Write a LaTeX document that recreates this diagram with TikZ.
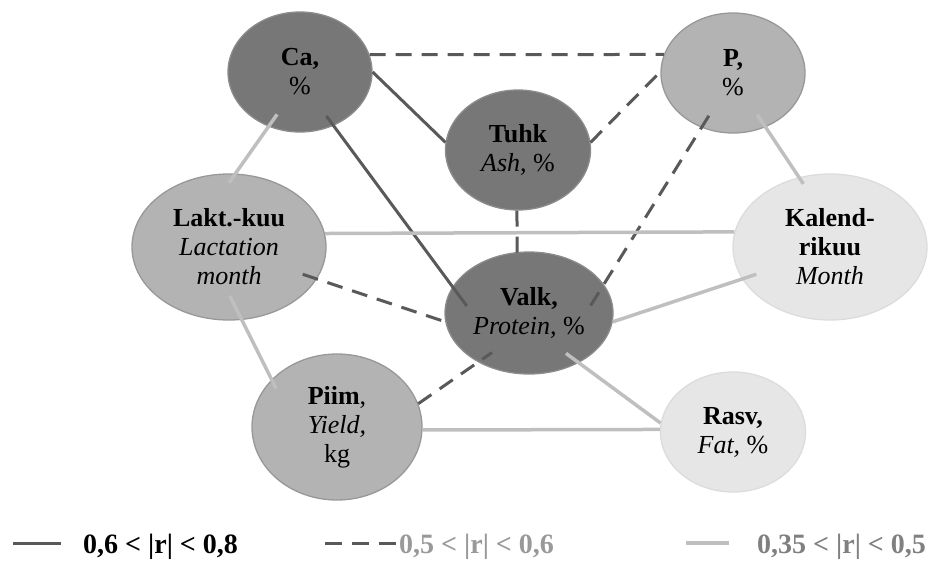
\documentclass[tikz,border=0pt]{standalone}
\usepackage{fontspec}
\setmainfont{Liberation Serif}
\usetikzlibrary{shapes.geometric}

\definecolor{darkfill}{HTML}{777777}
\definecolor{darkedge}{HTML}{8C8C8C}
\definecolor{midfill}{HTML}{B3B3B3}
\definecolor{midedge}{HTML}{989898}
\definecolor{lightfill}{HTML}{E6E6E6}
\definecolor{lightedge}{HTML}{DCDCDC}
\definecolor{strongline}{HTML}{595959}
\definecolor{weakline}{HTML}{BFBFBF}

\begin{document}
\begin{tikzpicture}[x=1pt, y=-1pt,
    font=\fontsize{26}{29}\selectfont,
    var/.style={ellipse, line width=1.3pt, inner sep=0pt, align=center},
    darkvar/.style={var, fill=darkfill, draw=darkedge},
    midvar/.style={var, fill=midfill, draw=midedge},
    lightvar/.style={var, fill=lightfill, draw=lightedge},
    strong/.style={draw=strongline, line width=3pt},
    medium/.style={draw=strongline, line width=3pt, dash pattern=on 16pt off 10pt},
    weak/.style={draw=weakline, line width=3.5pt},
    legendtext/.style={anchor=base west, inner sep=0pt, font=\fontsize{28}{30}\selectfont\bfseries}]
    \useasboundingbox (0,0) rectangle (933,560);

    \node[darkvar, minimum width=144, minimum height=120] at (300, 72) (ca) {\textbf{Ca,}\\\%};
    \node[midvar, minimum width=144, minimum height=120] at (733, 73) (p) {\textbf{P,}\\\%};
    \node[darkvar, minimum width=145, minimum height=120] at (518, 150) (tuhk) {\textbf{Tuhk}\\\textit{Ash,} \%};
    \node[midvar, minimum width=194, minimum height=146] at (229, 247) (lakt) {\textbf{Lakt.-kuu}\\\textit{Lactation}\\\textit{month}};
    \node[lightvar, minimum width=194, minimum height=146] at (830, 247) (kal) {\textbf{Kalend-}\\\textbf{rikuu}\\\textit{Month}};
    \node[darkvar, minimum width=168, minimum height=122] at (529, 313) (valk) {\textbf{Valk,}\\\textit{Protein,} \%};
    \node[midvar, minimum width=170, minimum height=146] at (337, 427) (piim) {\textbf{Piim},\\\textit{Yield,}\\kg};
    \node[lightvar, minimum width=145, minimum height=120] at (733, 432) (rasv) {\textbf{Rasv,}\\\textit{Fat,} \%};

    % 0,6 < |r| < 0,8
    \draw[strong] (ca.east) -- (tuhk.174);
    \draw[strong, shorten <=-12pt, shorten >=-24pt] (ca.-58) -- (valk.161);

    % 0,5 < |r| < 0,6
    \draw[medium] (ca.14) -- (p.165);
    \draw[medium] (tuhk.6) -- (p.179);
    \draw[medium, shorten <=-14pt, shorten >=-25pt] (p.-120) -- (valk.21);
    \draw[medium, shorten >=-9pt] (tuhk.-91) -- (valk.101);
    \draw[medium, shorten <=-15pt] (lakt.-20) -- (valk.186);
    \draw[medium, shorten >=-17pt] (piim.16) -- (valk.-136);

    % 0,35 < |r| < 0,5
    \draw[weak, shorten <=-15pt, shorten >=-11pt] (ca.-120) -- (lakt.85);
    \draw[weak] (lakt.8.4) -- (kal.171.6);
    \draw[weak, shorten <=-15pt, shorten >=-8pt] (p.-59) -- (kal.114);
    \draw[weak, shorten <=-15pt] (kal.-160) -- (valk.-6);
    \draw[weak, shorten <=-27pt, shorten >=-10pt] (lakt.-80) -- (piim.144);
    \draw[weak, shorten <=-16pt] (valk.-45) -- (rasv.173);
    \draw[weak] (piim.-2) -- (rasv.178);

    % legend
    \coordinate (s1) at (13, 543);
    \coordinate (e1) at (61, 543);
    \coordinate (s2) at (325, 543);
    \coordinate (e2) at (397, 543);
    \coordinate (s3) at (686, 543);
    \coordinate (e3) at (729, 543);
    \draw[strong] (s1) -- (e1);
    \draw[medium, dash pattern=on 17pt off 10pt] (s2) -- (e2);
    \draw[weak] (s3) -- (e3);
    \node[legendtext] at (83, 553) (l1) {0,6 < |r| < 0,8};
    \node[legendtext, text=black!40] at (399, 553) (l2) {0,5 < |r| < 0,6};
    \node[legendtext, text=black!50] at (757, 553) (l3) {0,35 < |r| < 0,5};
\end{tikzpicture}
\end{document}
